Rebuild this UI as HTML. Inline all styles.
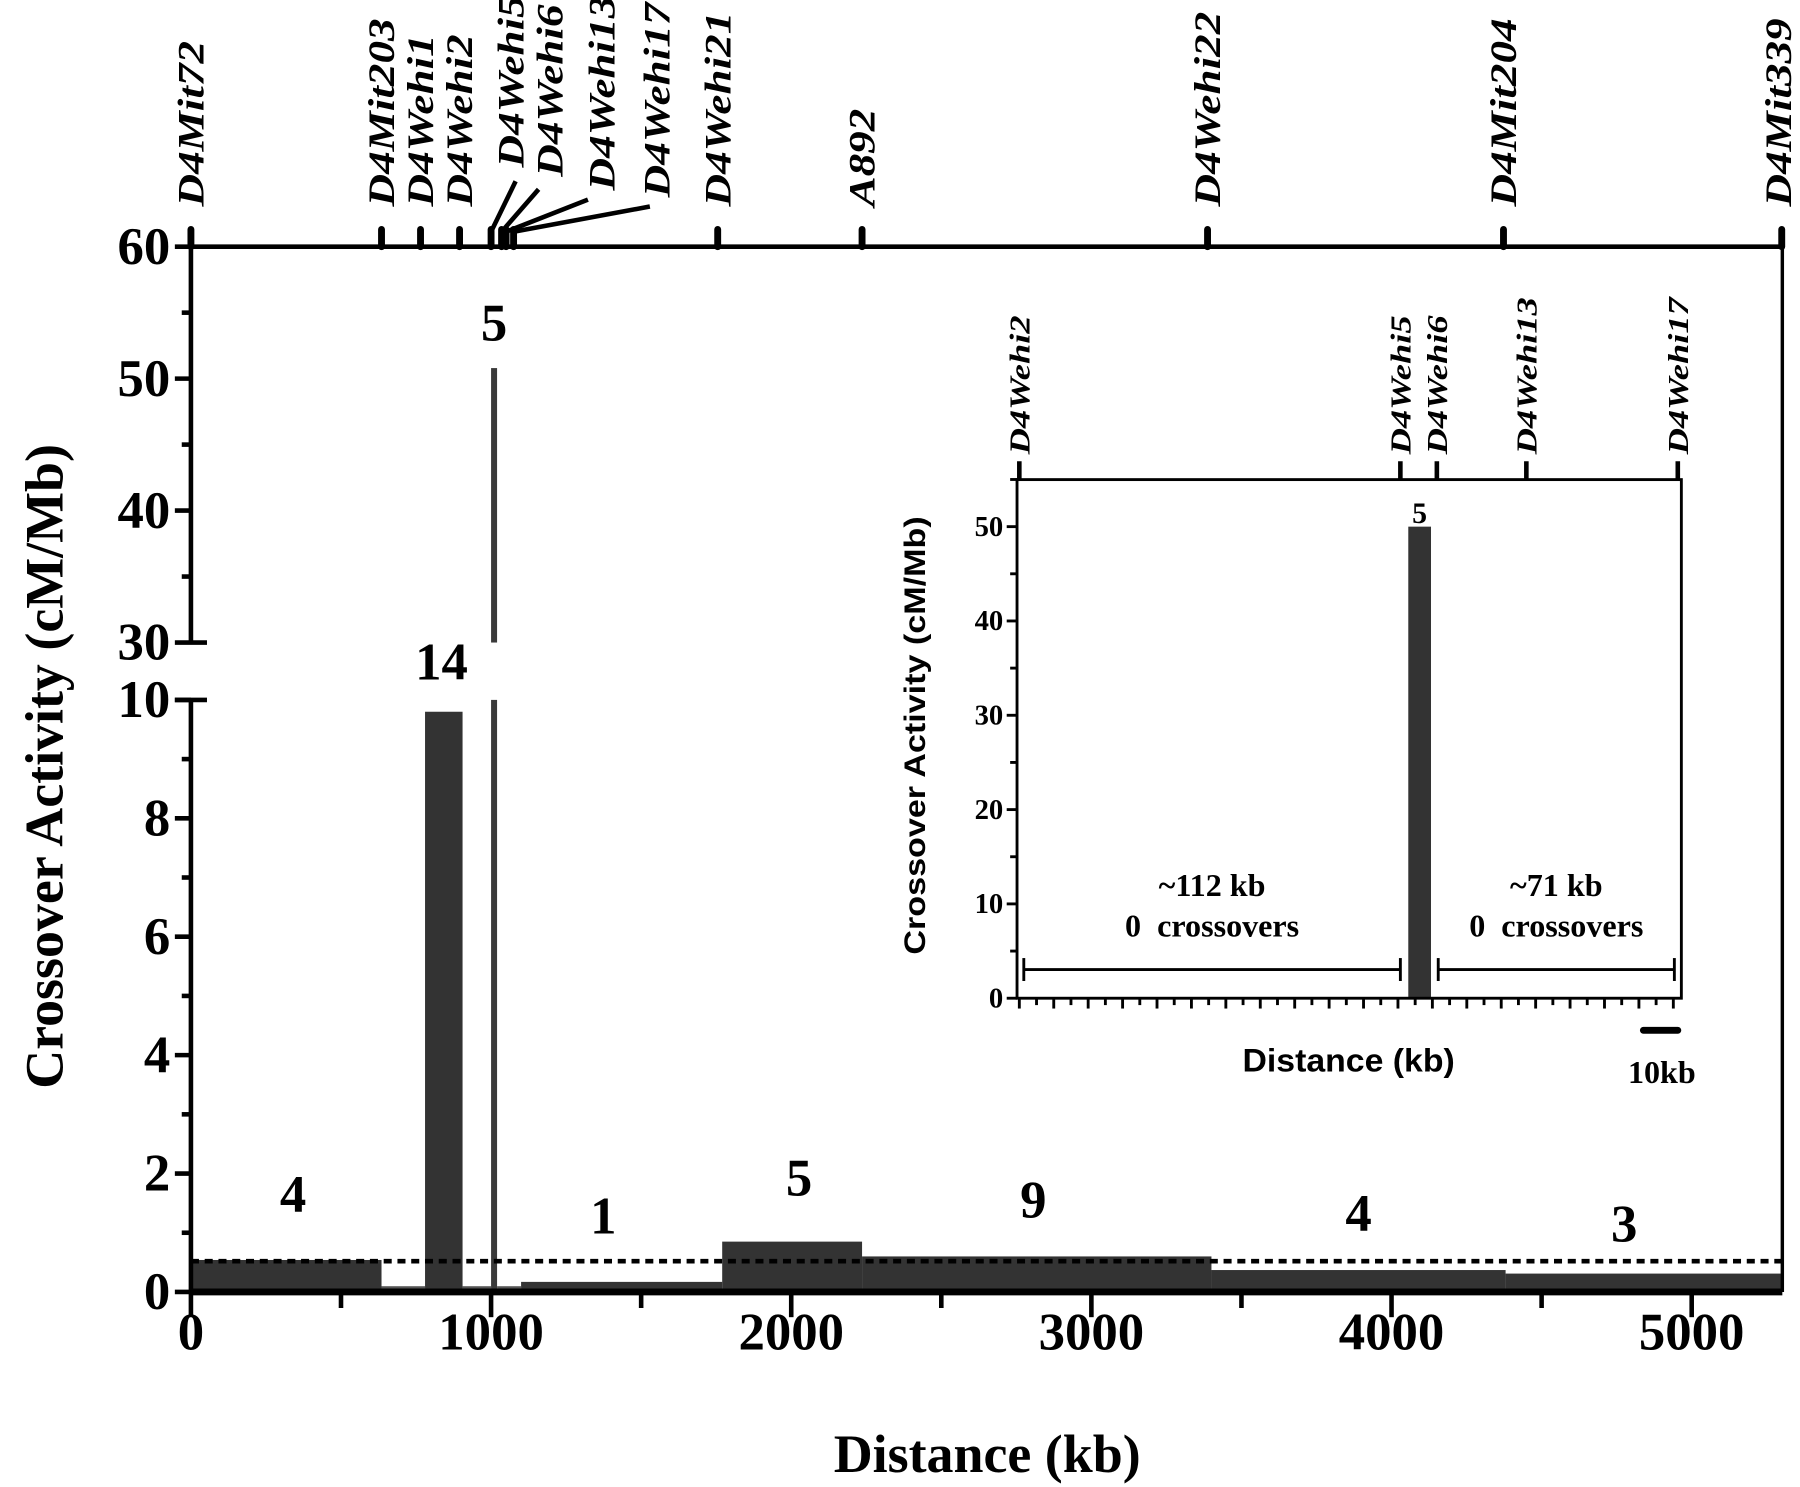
<!DOCTYPE html>
<html><head><meta charset="utf-8"><style>
html,body{margin:0;padding:0;background:#fff;}
svg{display:block;}
</style></head><body>
<svg id="chart" width="1800" height="1487" viewBox="0 0 1568 1296" xmlns="http://www.w3.org/2000/svg"></svg>
<script>
// main chart data
const segStart = [0, 635, 780, 905, 1000, 1020, 1100, 1770, 2236, 3400, 4380];
const segEnd   = [635, 780, 905, 1000, 1020, 1100, 1770, 2236, 3400, 4380, 5300];
const segValue = [0.54, 0, 9.8, 0, 50.8, 0, 0.17, 0.85, 0.6, 0.37, 0.31];
const segCount = ["4", "", "14", "", "5", "", "1", "5", "9", "4", "3"];
const markerNames = ["D4Mit72","D4Mit203","D4Wehi1","D4Wehi2","D4Wehi5","D4Wehi6","D4Wehi13","D4Wehi17","D4Wehi21","A892","D4Wehi22","D4Mit204","D4Mit339"];
const markerKb = [0, 635, 765, 895, 1000, 1035, 1050, 1075, 1755, 2236, 3387, 4373, 5300];
const xTicks = [0, 1000, 2000, 3000, 4000, 5000];
const yTicksLow = [0, 2, 4, 6, 8, 10];
const yTicksHigh = [30, 40, 50, 60];
const meanLine = 0.52;
// inset data
const insetMarkers = ["D4Wehi2","D4Wehi5","D4Wehi6","D4Wehi13","D4Wehi17"];
const insetMarkerKb = [0, 110.7, 121.3, 147.3, 191.3];
const insetBarStart = [113];
const insetBarEnd = [119.6];
const insetBarValue = [50];
const insetBarCount = ["5"];
const insetYTicks = [0, 10, 20, 30, 40, 50];

// label nudges (layout only)
const countDx = [6, 0, -2, 0, 0, 0, -16, 6, -3, 0, -17];
const countDy = [0, 0, 0, 0, 0, 0, 10, 2, 8, 8, 14];

const NS = "http://www.w3.org/2000/svg";
const svg = document.getElementById('chart');
function mk(tag, attrs, parent, text){
  const e = document.createElementNS(NS, tag);
  for (const k in attrs) e.setAttribute(k, attrs[k]);
  if (text !== undefined) e.textContent = text;
  (parent || svg).appendChild(e);
  return e;
}
const SERIF = '"Liberation Serif", serif';
const SANS = '"Liberation Sans", sans-serif';

const X0 = 166, XR = 1553;
const xs = kb => X0 + kb * (1474 - 166) / 5000;
const yLow = v => 1126 - v * 51.6;
const yHigh = v => 560 - (v - 30) * 11.5;
const yv = v => v <= 10 ? yLow(v) : yHigh(v);

// bars
segValue.forEach((v, i) => {
  const x1 = xs(segStart[i]), x2 = xs(segEnd[i]);
  let r;
  if (v === 0) {
    r = mk('rect', {x: x1, y: 1121, width: x2 - x1, height: 4, fill: '#555'});
  } else if (v > 10) {
    const g = mk('g', {});
    
    
    mk('rect', {x: x1, y: yLow(10), width: x2 - x1, height: 1126 - yLow(10), fill: '#3a3a3a'}, g);
    mk('rect', {x: x1, y: yHigh(v), width: x2 - x1, height: 560 - yHigh(v), fill: '#3a3a3a'}, g);
    r = null;
  } else {
    r = mk('rect', {x: x1, y: yLow(v), width: x2 - x1, height: 1126 - yLow(v), fill: '#333'});
  }
  if (r) {
    
    
  }
  if (segCount[i]) {
    let ty = v > 10 ? yHigh(v) - 24 : (v > 5 ? yLow(v) - 28 : yLow(v) - 42 - (v < 0.3 ? 10 : 0));
    const t = mk('text', {x: (x1 + x2) / 2 + countDx[i], y: ty + countDy[i], 'text-anchor': 'middle', 'font-family': SERIF, 'font-weight': 'bold', 'font-size': 46}, svg, segCount[i]);
    
    
  }
});
const ml = mk('line', {x1: X0, x2: XR, y1: yLow(meanLine), y2: yLow(meanLine), stroke: '#000', 'stroke-width': 4, 'stroke-dasharray': '7 5'});



// axes frame
const ax = mk('g', {stroke: '#000', 'stroke-width': 4, fill: 'none'});


mk('line', {x1: X0, x2: XR, y1: 1126, y2: 1126, 'stroke-width': 6}, ax);
mk('line', {x1: X0, x2: XR, y1: 215, y2: 215}, ax);
mk('line', {x1: XR, x2: XR, y1: 215, y2: 1126, 'stroke-width': 3}, ax);
mk('line', {x1: X0, x2: X0, y1: 213, y2: 560}, ax);
mk('line', {x1: X0, x2: X0, y1: 610, y2: 1128}, ax);
mk('line', {x1: X0 - 14, x2: X0 + 14, y1: 560, y2: 560}, ax);
mk('line', {x1: X0 - 14, x2: X0 + 14, y1: 610, y2: 610}, ax);

for (let k = 0; k <= 5000; k += 500) {
  const major = k % 1000 === 0;
  mk('line', {x1: xs(k), x2: xs(k), y1: 1126, y2: 1126 + (major ? 22 : 14)}, ax);
}
xTicks.forEach(k => {
  const t = mk('text', {x: xs(k), y: 1176, 'text-anchor': 'middle', 'font-family': SERIF, 'font-weight': 'bold', 'font-size': 46}, svg, String(k));
  
  
});
for (let v = 0; v <= 10; v += 1) {
  const major = v % 2 === 0;
  mk('line', {x1: X0 - (major ? 14 : 8), x2: X0, y1: yLow(v), y2: yLow(v)}, ax);
}
for (let v = 35; v <= 60; v += 5) {
  const major = v % 10 === 0;
  mk('line', {x1: X0 - (major ? 14 : 8), x2: X0, y1: yHigh(v), y2: yHigh(v)}, ax);
}
yTicksLow.concat(yTicksHigh).forEach(v => {
  const t = mk('text', {x: X0 - 18, y: yv(v) + 15, 'text-anchor': 'end', 'font-family': SERIF, 'font-weight': 'bold', 'font-size': 46}, svg, String(v));
  
  
});
let tt = mk('text', {x: 860, y: 1283, 'text-anchor': 'middle', 'font-family': SERIF, 'font-weight': 'bold', 'font-size': 47}, svg, 'Distance (kb)');


tt = mk('text', {x: 0, y: 0, 'text-anchor': 'middle', 'font-family': SERIF, 'font-weight': 'bold', 'font-size': 47, transform: 'translate(54,668) rotate(-90)'}, svg, 'Crossover Activity (cM/Mb)');



// markers
const labelX = {"D4Wehi5": 456, "D4Wehi6": 490, "D4Wehi13": 535, "D4Wehi17": 583};
const labelEnd = {"D4Wehi5": 146, "D4Wehi6": 154, "D4Wehi13": 166, "D4Wehi17": 172};
const leaderEnd = {"D4Wehi5": [449,158], "D4Wehi6": [469,165], "D4Wehi13": [512,174], "D4Wehi17": [566,180]};
markerNames.forEach((n, i) => {
  const x = xs(markerKb[i]);
  const tk = mk('line', {x1: x, x2: x, y1: 215, y2: 200, stroke: '#000', 'stroke-width': 6, 'stroke-linecap': 'round'});
  
  
  let lx = x + 11, ly = 180;
  if (labelX[n]) {
    lx = labelX[n]; ly = labelEnd[n];
    const le = leaderEnd[n];
    const ll = mk('line', {x1: x, y1: 202, x2: le[0], y2: le[1], stroke: '#000', 'stroke-width': 4});
    
    
  }
  if (n === 'D4Mit339') lx = x + 8;
  const t = mk('text', {x: 0, y: 0, 'text-anchor': 'end', 'font-family': SERIF, 'font-weight': 'bold', 'font-style': 'italic', 'font-size': 32, transform: `translate(${lx},${ly}) rotate(-90) scale(1.23,1)`}, svg, n);
  t.setAttribute('text-anchor', 'start');
  
  
});

// ===== inset =====
const IX0 = 886, IXR = 1465, IY0 = 870, IYT = 418;
const ixs = kb => 888 + kb * 3.0;
const iys = v => IY0 - v * 8.22;
const ig = mk('g', {});


insetBarValue.forEach((v, i) => {
  const r = mk('rect', {x: ixs(insetBarStart[i]), y: iys(v), width: ixs(insetBarEnd[i]) - ixs(insetBarStart[i]), height: IY0 - iys(v), fill: '#333'}, ig);
  
  
  const t = mk('text', {x: (ixs(insetBarStart[i]) + ixs(insetBarEnd[i])) / 2, y: iys(v) - 3, 'text-anchor': 'middle', 'font-family': SERIF, 'font-weight': 'bold', 'font-size': 26}, ig, insetBarCount[i]);
  
  
});
const ia = mk('g', {stroke: '#000', 'stroke-width': 2.5, fill: 'none'}, ig);


mk('rect', {x: IX0, y: IYT, width: IXR - IX0, height: IY0 - IYT}, ia);
for (let k = 0; k <= 190; k += 5) mk('line', {x1: ixs(k), x2: ixs(k), y1: IY0, y2: IY0 + (k % 10 === 0 ? 9 : 6)}, ia);
for (let v = 0; v <= 55; v += 5) mk('line', {x1: IX0 - (v % 10 === 0 ? 9 : 6), x2: IX0, y1: iys(v), y2: iys(v)}, ia);
insetYTicks.forEach(v => {
  const t = mk('text', {x: IX0 - 12, y: iys(v) + 8, 'text-anchor': 'end', 'font-family': SERIF, 'font-weight': 'bold', 'font-size': 25}, ig, String(v));
  
  
});
insetMarkers.forEach((n, i) => {
  const x = ixs(insetMarkerKb[i]);
  mk('line', {x1: x, x2: x, y1: IYT, y2: IYT - 16, stroke: '#000', 'stroke-width': 4}, ig);
  const t = mk('text', {x: 0, y: 0, 'font-family': SERIF, 'font-weight': 'bold', 'font-style': 'italic', 'font-size': 25, transform: `translate(${x + 9},${IYT - 22}) rotate(-90) scale(1.27,1)`}, ig, n);
  
  
});
function bracket(a, b, l1, l2, name) {
  const g = mk('g', {stroke: '#000', 'stroke-width': 2.5}, ig);
  
  
  mk('line', {x1: ixs(a), x2: ixs(b), y1: 845, y2: 845}, g);
  mk('line', {x1: ixs(a), x2: ixs(a), y1: 835, y2: 855}, g);
  mk('line', {x1: ixs(b), x2: ixs(b), y1: 835, y2: 855}, g);
  const cx = (ixs(a) + ixs(b)) / 2;
  mk('text', {x: cx, y: 781, 'text-anchor': 'middle', 'font-family': SERIF, 'font-weight': 'bold', 'font-size': 28, stroke: 'none', 'xml:space': 'preserve'}, g, l1);
  const t2 = mk('text', {x: cx, y: 816, 'text-anchor': 'middle', 'font-family': SERIF, 'font-weight': 'bold', 'font-size': 28, stroke: 'none'}, g, l2);
  t2.setAttributeNS('http://www.w3.org/XML/1998/namespace', 'xml:space', 'preserve');
  t2.style.whiteSpace = 'pre';
}
bracket(1.3, 110.7, '~112 kb', '0  crossovers', 'left-gap-bracket');
bracket(121.7, 190.3, '~71 kb', '0  crossovers', 'right-gap-bracket');
const sb = mk('line', {x1: ixs(181.3), x2: ixs(191.3), y1: 898, y2: 898, stroke: '#000', 'stroke-width': 6, 'stroke-linecap': 'round'}, ig);


let st = mk('text', {x: 1448, y: 944, 'text-anchor': 'middle', 'font-family': SERIF, 'font-weight': 'bold', 'font-size': 28}, ig, '10kb');


st = mk('text', {x: 1175, y: 934, 'text-anchor': 'middle', 'font-family': SANS, 'font-weight': 'bold', 'font-size': 28, textLength: 185, lengthAdjust: 'spacingAndGlyphs'}, ig, 'Distance (kb)');


st = mk('text', {x: 0, y: 0, 'text-anchor': 'middle', 'font-family': SANS, 'font-weight': 'bold', 'font-size': 26, textLength: 382, lengthAdjust: 'spacingAndGlyphs', transform: 'translate(806,641) rotate(-90)'}, ig, 'Crossover Activity (cM/Mb)');


</script>
</body></html>
